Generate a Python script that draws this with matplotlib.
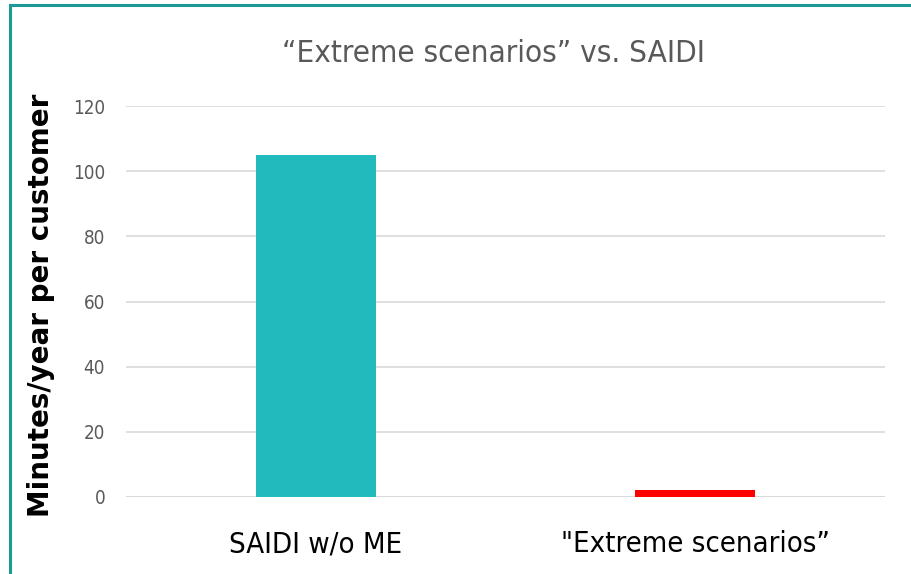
import matplotlib.pyplot as plt
from matplotlib.patches import Rectangle

# dados
categorias = ['SAIDI w/o ME', '"Extreme scenarios\u201d']
valores = [105, 2]
cores = ['#21BBBD', '#FF0000']
yticks = [0, 20, 40, 60, 80, 100, 120]

fig = plt.figure(figsize=(9.12, 5.74), dpi=100)
ax = fig.add_axes([126/912, 1 - 497/574, (885-126)/912, (497-106)/574])

# moldura verde da figura
fig.patches.append(Rectangle((10/912, -0.05), 1.0, 1 - 5/574 + 0.05, transform=fig.transFigure,
                             fill=False, edgecolor='#1E9A96', linewidth=2.2, clip_on=False))

ax.bar(range(len(categorias)), valores, width=0.315, color=cores, zorder=3)
ax.set_xlim(-0.5, 1.5)
ax.set_ylim(0, 120)
ax.set_yticks(yticks)
ax.grid(axis='y', color='#D9D9D9', linewidth=1.2, zorder=0)
ax.axhline(0, color='#D9D9D9', linewidth=2, zorder=2)
for s in ax.spines.values():
    s.set_visible(False)
ax.tick_params(axis='both', length=0)
ax.tick_params(axis='y', labelsize=13.5, labelcolor='#595959', pad=15)
ax.set_xticks(range(len(categorias)))
ax.set_xticklabels(categorias, fontsize=21, fontstretch='condensed', color='black')
ax.tick_params(axis='x', pad=24)
for t in ax.get_yticklabels():
    t.set_fontstretch('condensed')

fig.text(494/912, 1 - 53/574, '\u201cExtreme scenarios\u201d vs. SAIDI', ha='center', va='center',
         fontsize=22.5, fontstretch='condensed', color='#595959')
fig.text(41/912, 1 - 305/574, 'Minutes/year per customer', rotation=90, ha='center', va='center',
         fontsize=20, fontweight='bold', color='black', family='DejaVu Sans')

fig.savefig('out.png', dpi=100)
